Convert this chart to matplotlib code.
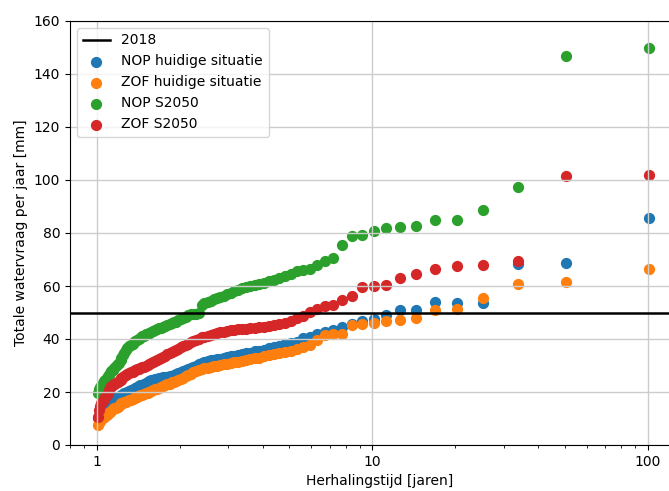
"""
Herhalingstijd vs totale watervraag (NOP / ZOF, huidig en S2050).
Saves out.png
"""
import matplotlib
matplotlib.use("Agg")
import matplotlib.pyplot as plt
from matplotlib.ticker import FuncFormatter, MultipleLocator

# herhalingstijd [jaren], rank 1..100
herhalingstijd = [
    101.0, 50.5, 33.67, 25.25, 20.2, 16.83, 14.43, 12.63, 11.22, 10.1,
    9.18, 8.42, 7.77, 7.21, 6.73, 6.31, 5.94, 5.61, 5.32, 5.05,
    4.81, 4.59, 4.39, 4.21, 4.04, 3.88, 3.74, 3.61, 3.48, 3.37,
    3.26, 3.16, 3.06, 2.97, 2.89, 2.81, 2.73, 2.66, 2.59, 2.53,
    2.46, 2.40, 2.35, 2.30, 2.24, 2.20, 2.15, 2.10, 2.06, 2.02,
    1.98, 1.94, 1.91, 1.87, 1.84, 1.80, 1.77, 1.74, 1.71, 1.68,
    1.66, 1.63, 1.60, 1.58, 1.55, 1.53, 1.51, 1.49, 1.46, 1.44,
    1.42, 1.40, 1.38, 1.36, 1.35, 1.33, 1.31, 1.29, 1.28, 1.26,
    1.25, 1.23, 1.22, 1.20, 1.19, 1.17, 1.16, 1.15, 1.13, 1.12,
    1.11, 1.10, 1.09, 1.07, 1.06, 1.05, 1.04, 1.03, 1.02, 1.01,
]

nop_huidig = [
    85.6, 68.6, 68.4, 53.6, 53.6, 53.8, 51.1, 51.1, 49.2, 47.7,
    46.8, 45.8, 44.5, 43.3, 42.7, 42.0, 40.8, 40.2, 39.0, 38.5,
    38.0, 37.5, 37.0, 36.5, 36.0, 35.6, 35.3, 34.9, 34.6, 34.3,
    34.0, 33.7, 33.4, 33.1, 32.9, 32.6, 32.4, 32.1, 31.9, 31.7,
    31.4, 31.0, 30.5, 30.0, 29.6, 29.2, 28.7, 28.3, 27.9, 27.5,
    27.1, 26.7, 26.4, 26.2, 26.0, 25.8, 25.6, 25.5, 25.3, 25.1,
    25.0, 24.8, 24.6, 24.5, 24.1, 23.8, 23.4, 23.1, 22.8, 22.5,
    22.1, 21.8, 21.5, 21.2, 20.9, 20.6, 20.3, 20.0, 19.8, 19.5,
    19.2, 18.9, 18.6, 18.3, 18.1, 17.8, 17.6, 17.3, 17.0, 16.6,
    16.1, 15.7, 15.2, 14.7, 14.1, 13.6, 13.0, 12.3, 11.4, 10.2,
]

zof_huidig = [
    66.4, 61.5, 60.6, 55.6, 51.5, 50.9, 48.1, 47.3, 46.7, 46.0,
    45.8, 45.2, 42.0, 41.8, 41.4, 39.5, 37.6, 37.0, 36.1, 35.5,
    35.0, 34.6, 34.2, 33.8, 33.4, 33.0, 32.7, 32.4, 32.1, 31.8,
    31.5, 31.2, 31.0, 30.7, 30.4, 30.2, 29.9, 29.7, 29.5, 29.2,
    29.0, 28.7, 28.2, 27.8, 27.4, 26.9, 26.4, 25.9, 25.4, 25.0,
    24.6, 24.3, 23.9, 23.6, 23.2, 22.9, 22.6, 22.3, 21.9, 21.6,
    21.3, 21.0, 20.7, 20.4, 20.1, 19.8, 19.5, 19.2, 18.9, 18.7,
    18.4, 18.2, 17.9, 17.6, 17.4, 17.1, 16.9, 16.7, 16.4, 16.2,
    16.0, 15.7, 15.4, 14.9, 14.5, 14.1, 13.8, 13.4, 13.0, 12.6,
    12.2, 11.9, 11.4, 11.0, 10.6, 10.2, 9.8, 9.2, 8.4, 7.5,
]

nop_s2050 = [
    149.8, 146.8, 97.5, 88.5, 84.9, 84.8, 82.7, 82.3, 81.8, 80.7,
    79.4, 79.0, 75.3, 70.6, 69.5, 67.8, 66.5, 65.9, 65.5, 64.7,
    63.9, 63.1, 62.4, 61.8, 61.2, 60.8, 60.4, 60.1, 59.7, 59.2,
    58.5, 58.0, 57.4, 57.0, 56.4, 56.0, 55.5, 55.0, 54.5, 54.0,
    53.5, 52.8, 49.9, 49.6, 49.5, 49.3, 48.9, 48.4, 47.9, 47.5,
    47.1, 46.6, 46.3, 45.9, 45.6, 45.3, 44.9, 44.6, 44.3, 44.0,
    43.7, 43.4, 43.0, 42.7, 42.3, 42.0, 41.7, 41.3, 41.0, 40.5,
    40.1, 39.6, 39.1, 38.7, 38.2, 37.8, 37.3, 36.7, 35.8, 34.9,
    34.0, 33.0, 32.2, 31.1, 30.5, 29.8, 29.2, 28.4, 27.8, 27.2,
    26.5, 26.0, 25.3, 24.7, 24.1, 23.4, 22.2, 21.8, 21.1, 19.6,
]

zof_s2050 = [
    101.7, 101.4, 69.4, 67.8, 67.5, 66.4, 64.5, 63.1, 60.2, 59.9,
    59.7, 56.1, 54.8, 52.7, 52.3, 51.3, 50.2, 48.8, 48.0, 46.9,
    46.2, 45.8, 45.4, 45.0, 44.7, 44.4, 44.2, 44.1, 43.9, 43.8,
    43.6, 43.5, 43.4, 43.2, 42.8, 42.5, 42.1, 41.8, 41.5, 41.2,
    40.9, 40.6, 40.1, 39.7, 39.3, 38.8, 38.3, 37.8, 37.3, 36.9,
    36.4, 36.0, 35.6, 35.1, 34.7, 34.2, 33.7, 33.3, 32.9, 32.4,
    32.0, 31.6, 31.2, 30.8, 30.5, 30.2, 29.9, 29.6, 29.3, 29.0,
    28.8, 28.5, 28.2, 28.0, 27.7, 27.4, 27.2, 26.9, 26.4, 26.0,
    25.5, 25.1, 24.7, 24.2, 23.8, 23.4, 23.0, 22.5, 22.1, 21.4,
    20.6, 19.8, 19.0, 18.2, 17.3, 16.6, 15.7, 14.6, 13.2, 10.5,
]

watervraag_2018 = 50

fig = plt.figure(figsize=(6.69, 4.91), dpi=100)
# rechterrand van de assen valt buiten de uitsnede, net als in het origineel
ax = fig.add_axes([70 / 669, 46 / 491, 620 / 669, 424 / 491])

ax.axhline(watervraag_2018, color="black", lw=1.8, label="2018")
ax.scatter(herhalingstijd, nop_huidig, s=50, color="tab:blue", label="NOP huidige situatie")
ax.scatter(herhalingstijd, zof_huidig, s=50, color="tab:orange", label="ZOF huidige situatie")
ax.scatter(herhalingstijd, nop_s2050, s=50, color="tab:green", label="NOP S2050")
ax.scatter(herhalingstijd, zof_s2050, s=50, color="tab:red", label="ZOF S2050")

ax.set_xscale("log")
ax.set_xlim(0.8, 142)
ax.set_ylim(0, 160)
ax.yaxis.set_major_locator(MultipleLocator(20))
ax.xaxis.set_major_formatter(FuncFormatter(lambda v, p: f"{v:g}"))
ax.grid(True, color="#cccccc", lw=1)

ax.set_xlabel("Herhalingstijd [jaren]")
ax.set_ylabel("Totale watervraag per jaar [mm]")
ax.legend(loc="upper left")

fig.savefig("out.png", dpi=100)
print("Saved: out.png")
